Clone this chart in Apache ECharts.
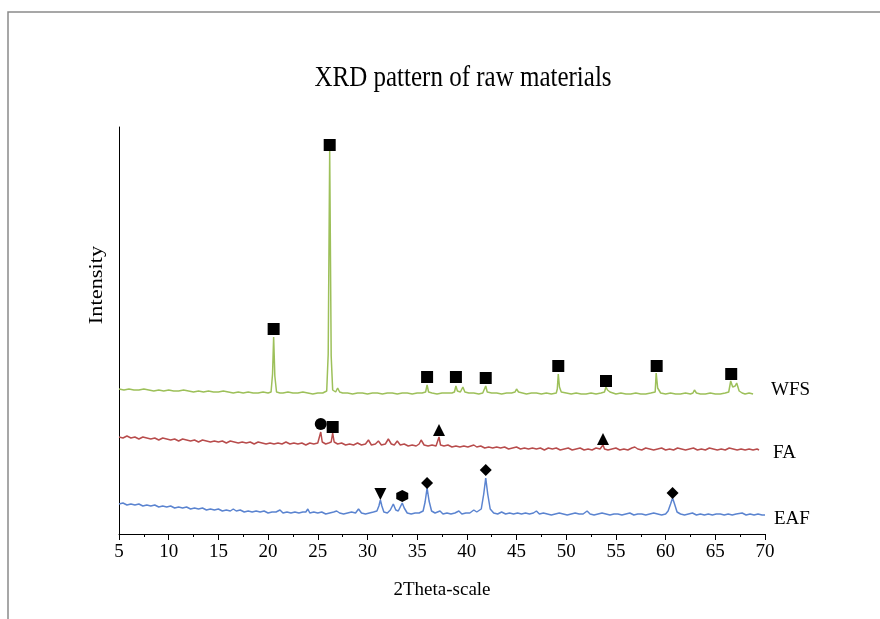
<!DOCTYPE html>
<html>
<head>
<meta charset="utf-8">
<script src="https://cdn.jsdelivr.net/npm/echarts@6/dist/echarts.min.js"></script>
<style>
  html, body { margin: 0; padding: 0; background: #fff; }
  #chart { width: 880px; height: 619px; }
</style>
</head>
<body>
<div id="chart"></div>
<script>
var serif = '"Liberation Serif", "DejaVu Serif", serif';

// traces: [2theta, intensity] (intensity includes the vertical offset of each pattern)
var wfsData = [[5.0,145],[5.5,144],[6.0,145],[6.5,144],[7.0,144],[7.5,145],[8.0,144],[8.5,143],[9.0,144],[9.5,143],[10.0,144],[10.5,143],[11.0,143],[11.5,144],[12.0,143],[12.5,142],[13.0,143],[13.5,142],[14.0,143],[14.5,142],[15.0,142],[15.5,143],[16.0,142],[16.5,141],[17.0,142],[17.5,141],[18.0,142],[18.5,141],[19.0,141],[19.5,142],[20.0,141],[20.3,142],[20.45,160],[20.56,197],[20.68,158],[20.85,142],[21.2,141],[21.5,141],[22.0,142],[22.5,141],[23.0,141],[23.5,142],[24.0,141],[24.5,140],[25.0,141],[25.5,141],[25.9,143],[26.05,180],[26.2,383],[26.35,178],[26.5,144],[26.8,142],[27.0,146],[27.2,142],[27.5,141],[28.0,141],[28.5,140],[29.0,141],[29.5,141],[30.0,140],[30.5,141],[31.0,141],[31.5,140],[32.0,141],[32.5,141],[33.0,140],[33.5,141],[34.0,141],[34.5,140],[35.0,141],[35.5,141],[35.85,142],[36.0,149],[36.15,142],[36.5,141],[37.0,140],[37.5,141],[38.0,141],[38.5,141],[38.75,142],[38.9,148],[39.05,143],[39.35,142],[39.6,147],[39.8,142],[40.2,141],[40.7,141],[41.2,140],[41.6,141],[41.75,142],[41.9,148],[42.05,142],[42.5,141],[43.0,141],[43.5,140],[44.0,141],[44.5,141],[44.85,142],[45.0,145],[45.2,142],[45.6,141],[46.0,140],[46.5,141],[47.0,141],[47.5,140],[48.0,141],[48.5,140],[49.0,141],[49.1,145],[49.2,160],[49.32,147],[49.5,142],[50.0,141],[50.5,140],[51.0,141],[51.5,140],[52.0,140],[52.5,141],[53.0,140],[53.5,141],[53.85,142],[54.0,147],[54.15,144],[54.4,142],[55.0,140],[55.5,141],[56.0,140],[56.5,140],[57.0,141],[57.5,140],[58.0,140],[58.5,141],[58.95,142],[59.05,161],[59.2,146],[59.5,141],[60.0,140],[60.5,141],[61.0,140],[61.5,140],[62.0,141],[62.5,140],[62.75,141],[62.9,144],[63.1,141],[63.5,140],[64.0,140],[64.5,141],[65.0,140],[65.5,140],[66.0,141],[66.35,142],[66.55,153],[66.75,147],[67.0,148],[67.15,151],[67.4,143],[67.7,141],[68.0,140],[68.4,141],[68.8,140]];

var faData = [[5.0,97],[5.4,96],[5.8,98],[6.2,96],[6.6,97],[7.0,95],[7.4,97],[7.8,96],[8.2,95],[8.6,96],[9.0,94],[9.4,96],[9.8,95],[10.2,94],[10.6,95],[11.0,93],[11.4,95],[11.8,94],[12.2,93],[12.6,94],[13.0,92],[13.4,94],[13.8,93],[14.2,92],[14.6,93],[15.0,92],[15.4,93],[15.8,91],[16.2,93],[16.6,92],[17.0,91],[17.4,92],[17.8,91],[18.2,92],[18.6,90],[19.0,92],[19.4,91],[19.8,90],[20.2,91],[20.6,90],[21.0,91],[21.4,90],[21.8,92],[22.2,90],[22.6,91],[23.0,90],[23.4,91],[23.8,89],[24.2,91],[24.6,90],[25.0,91],[25.15,92],[25.3,102],[25.45,92],[25.8,90],[26.1,91],[26.35,92],[26.5,101],[26.65,92],[27.0,90],[27.4,91],[27.8,89],[28.2,90],[28.6,89],[29.0,91],[29.4,89],[29.8,90],[30.1,94],[30.4,89],[30.8,90],[31.1,93],[31.4,89],[31.8,90],[32.1,95],[32.4,90],[32.7,89],[33.0,93],[33.3,89],[33.7,90],[34.1,88],[34.5,89],[34.9,88],[35.2,90],[35.4,94],[35.7,89],[36.1,88],[36.5,89],[36.9,88],[37.05,90],[37.2,97],[37.35,89],[37.7,88],[38.1,89],[38.5,87],[38.9,88],[39.3,87],[39.7,88],[40.1,87],[40.4,88],[40.7,89],[41.0,87],[41.4,88],[41.8,86],[42.2,87],[42.6,86],[43.0,87],[43.4,86],[43.8,87],[44.2,85],[44.6,86],[45.0,87],[45.4,85],[45.8,86],[46.2,85],[46.6,86],[47.0,85],[47.4,86],[47.8,84],[48.2,86],[48.6,85],[49.0,86],[49.4,84],[49.8,85],[50.2,86],[50.6,84],[51.0,85],[51.4,86],[51.8,84],[52.2,85],[52.6,84],[53.0,86],[53.4,85],[53.6,86],[53.7,89],[53.85,85],[54.2,84],[54.6,85],[55.0,86],[55.4,84],[55.8,85],[56.2,84],[56.6,86],[56.9,87],[57.2,85],[57.6,84],[58.0,86],[58.4,85],[58.8,84],[59.2,85],[59.6,86],[60.0,84],[60.4,85],[60.8,84],[61.2,86],[61.6,85],[62.0,84],[62.4,85],[62.8,86],[63.2,84],[63.6,85],[64.0,84],[64.4,86],[64.8,85],[65.2,84],[65.6,85],[66.0,84],[66.4,86],[66.8,85],[67.2,84],[67.6,85],[68.0,84],[68.4,85],[68.8,84],[69.2,85],[69.4,84]];

var eafData = [[5.0,30],[5.4,31],[5.8,29],[6.2,30],[6.6,29],[7.0,30],[7.4,28],[7.8,29],[8.2,28],[8.6,29],[9.0,27],[9.4,28],[9.8,27],[10.2,28],[10.6,26],[11.0,27],[11.4,26],[11.8,27],[12.2,25],[12.6,26],[13.0,25],[13.4,26],[13.8,24],[14.2,25],[14.6,24],[15.0,25],[15.4,23],[15.8,24],[16.2,23],[16.5,25],[16.8,23],[17.2,24],[17.6,22],[18.0,23],[18.4,22],[18.8,23],[19.2,22],[19.6,23],[20.0,21],[20.4,22],[20.8,22],[21.2,24],[21.5,21],[21.9,22],[22.3,21],[22.7,22],[23.1,21],[23.5,22],[23.8,22],[24.0,25],[24.2,21],[24.6,22],[25.0,21],[25.4,22],[25.8,20],[26.2,21],[26.6,22],[26.9,23],[27.2,21],[27.6,20],[28.0,21],[28.4,22],[28.8,21],[29.1,25],[29.4,21],[29.8,20],[30.2,21],[30.6,22],[30.95,23],[31.15,28],[31.3,34],[31.45,28],[31.65,22],[32.0,21],[32.3,24],[32.6,30],[32.85,24],[33.1,23],[33.3,27],[33.5,31],[33.7,26],[34.0,21],[34.4,20],[34.8,21],[35.2,21],[35.6,23],[35.8,32],[36.0,46],[36.2,33],[36.45,23],[36.8,21],[37.3,23],[37.6,20],[38.0,21],[38.4,20],[38.8,21],[39.2,23],[39.5,20],[39.9,21],[40.3,21],[40.7,24],[41.0,22],[41.45,25],[41.7,40],[41.9,56],[42.1,40],[42.35,25],[42.7,21],[43.1,20],[43.5,22],[43.9,20],[44.3,21],[44.7,20],[45.1,21],[45.5,20],[45.9,21],[46.3,20],[46.7,21],[47.0,23],[47.3,20],[47.7,21],[48.1,20],[48.5,19],[48.9,20],[49.3,21],[49.7,20],[50.1,19],[50.5,20],[50.9,21],[51.3,20],[51.7,20],[52.1,23],[52.4,20],[52.8,19],[53.2,20],[53.6,21],[54.0,20],[54.4,19],[54.8,20],[55.2,20],[55.6,19],[56.0,20],[56.4,21],[56.8,19],[57.2,20],[57.6,20],[58.0,19],[58.4,20],[58.8,21],[59.2,20],[59.6,19],[60.0,20],[60.25,23],[60.5,30],[60.7,36],[60.9,30],[61.15,22],[61.5,20],[61.9,19],[62.3,20],[62.7,21],[63.1,19],[63.5,20],[63.9,19],[64.3,20],[64.7,19],[65.1,20],[65.5,20],[65.9,19],[66.3,20],[66.7,19],[67.1,20],[67.7,21],[68.1,19],[68.5,20],[68.9,19],[69.3,20],[69.7,19],[70.0,19]];

// phase markers placed above the peaks
var squareMarks = [[20.56,205],[26.2,389],[36.0,157],[38.9,157],[41.9,156],[49.2,168],[54.0,153],[59.1,168],[66.6,160],[26.5,107]];
var circleMarks = [[25.3,110]];
var triangleMarks = [[37.2,104],[53.7,95]];
var downTriangleMarks = [[31.3,40]];
var hexagonMarks = [[33.5,38]];
var diamondMarks = [[36.0,51],[41.9,64],[60.7,41]];

var xTicks = [5, 70, 5];

var myChart = echarts.init(document.getElementById('chart'));

function trace(name, data, color, dist, dy) {
    return {
        name: name,
        type: 'line',
        data: data,
        symbol: 'none',
        lineStyle: { color: color, width: 1.5 },
        endLabel: {
            show: true,
            formatter: name,
            distance: dist,
            offset: [0, dy],
            fontFamily: serif,
            fontSize: 19,
            color: '#000'
        },
        z: 2
    };
}

function marks(data, symbol, size, rotate) {
    return {
        type: 'scatter',
        data: data,
        symbol: symbol,
        symbolSize: size,
        symbolRotate: rotate || 0,
        itemStyle: { color: '#000', opacity: 1 },
        z: 5
    };
}

var option = {
    animation: false,
    graphic: [{
        type: 'rect',
        shape: { x: 8, y: 12, width: 1000, height: 1000 },
        style: { fill: 'none', stroke: '#8a8a8a', lineWidth: 1.5 },
        silent: true
    }, {
        // title, stretched a little vertically like the source image
        type: 'text',
        x: 463,
        y: 78,
        scaleY: 1.15,
        style: {
            text: 'XRD pattern of raw materials',
            fontFamily: serif,
            fontSize: 25,
            fill: '#000',
            textAlign: 'center',
            textVerticalAlign: 'middle'
        }
    }, {
        type: 'text',
        x: 97,
        y: 285,
        rotation: Math.PI / 2,
        scaleX: 1.18,
        style: {
            text: 'Intensity',
            fontFamily: serif,
            fontSize: 19,
            fill: '#000',
            textAlign: 'center',
            textVerticalAlign: 'middle'
        }
    }],
    grid: { left: 119, right: 115, top: 127, bottom: 85 },
    xAxis: {
        type: 'value',
        min: xTicks[0],
        max: xTicks[1],
        interval: xTicks[2],
        name: '2Theta-scale',
        nameLocation: 'middle',
        nameGap: 47,
        nameTextStyle: { fontFamily: serif, fontSize: 19, color: '#000' },
        axisLine: { lineStyle: { color: '#000', width: 1 } },
        axisTick: { show: true, inside: false, length: 6, lineStyle: { color: '#000' } },
        minorTick: { show: true, splitNumber: 2, length: 3, lineStyle: { color: '#000' } },
        axisLabel: { fontFamily: serif, fontSize: 19, color: '#000', margin: 9 },
        splitLine: { show: false }
    },
    yAxis: {
        type: 'value',
        min: 0,
        max: 407,
        axisLine: { show: true, lineStyle: { color: '#000', width: 1 } },
        axisTick: { show: false },
        axisLabel: { show: false },
        splitLine: { show: false }
    },
    series: [
        trace('WFS', wfsData, '#9dc05a', 18, -4),
        trace('FA', faData, '#b84c4c', 14, 3),
        trace('EAF', eafData, '#5b84d0', 9, 4),
        marks(squareMarks, 'rect', 12),
        marks(circleMarks, 'circle', 12),
        marks(triangleMarks, 'triangle', 12),
        marks(downTriangleMarks, 'triangle', 12, 180),
        marks(hexagonMarks, 'path://M0,-10 L8.66,-5 L8.66,5 L0,10 L-8.66,5 L-8.66,-5 Z', 12),
        marks(diamondMarks, 'diamond', 12)
    ]
};

myChart.setOption(option);
</script>
</body>
</html>
